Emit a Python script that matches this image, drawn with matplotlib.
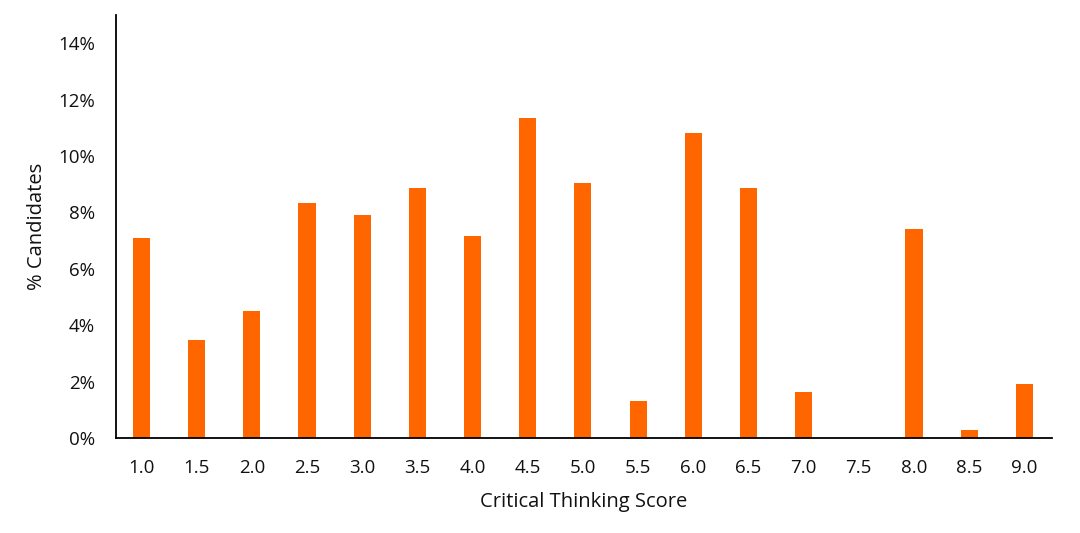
import matplotlib
matplotlib.use("Agg")
import matplotlib.pyplot as plt
from matplotlib.ticker import FuncFormatter

scores = ["1.0", "1.5", "2.0", "2.5", "3.0", "3.5", "4.0", "4.5", "5.0",
          "5.5", "6.0", "6.5", "7.0", "7.5", "8.0", "8.5", "9.0"]
pct = [7.09, 3.48, 4.50, 8.33, 7.91, 8.87, 7.16, 11.35, 9.04,
       1.31, 10.82, 8.87, 1.63, 0.0, 7.41, 0.28, 1.91]

plt.rcParams['font.family'] = ['Open Sans', 'DejaVu Sans']

fig = plt.figure(figsize=(10.8, 5.33), dpi=100)
ax = fig.add_axes([0.107, 0.178, 0.867, 0.794])

x = range(len(scores))
ax.bar(x, pct, width=0.31, color='#FF6600')

ax.set_xlim(-0.47, len(scores) - 0.5)
ax.set_ylim(0, 15)
ax.set_xticks(list(x))
ax.set_xticklabels(scores)
ax.set_yticks(range(0, 15, 2))
ax.yaxis.set_major_formatter(FuncFormatter(lambda v, p: '%d%%' % v))
ax.tick_params(length=0, labelsize=13.5, colors='#111111')
ax.tick_params(axis='x', pad=15)
ax.tick_params(axis='y', pad=15)

for s in ['top', 'right']:
    ax.spines[s].set_visible(False)
ax.spines['left'].set_linewidth(1.3)
ax.spines['bottom'].set_linewidth(1.3)

ax.set_xlabel('Critical Thinking Score', fontsize=14.5, color='#111111', labelpad=11)
ax.set_ylabel('% Candidates', fontsize=14.5, color='#111111', labelpad=8)

fig.savefig('out.png', dpi=100)
